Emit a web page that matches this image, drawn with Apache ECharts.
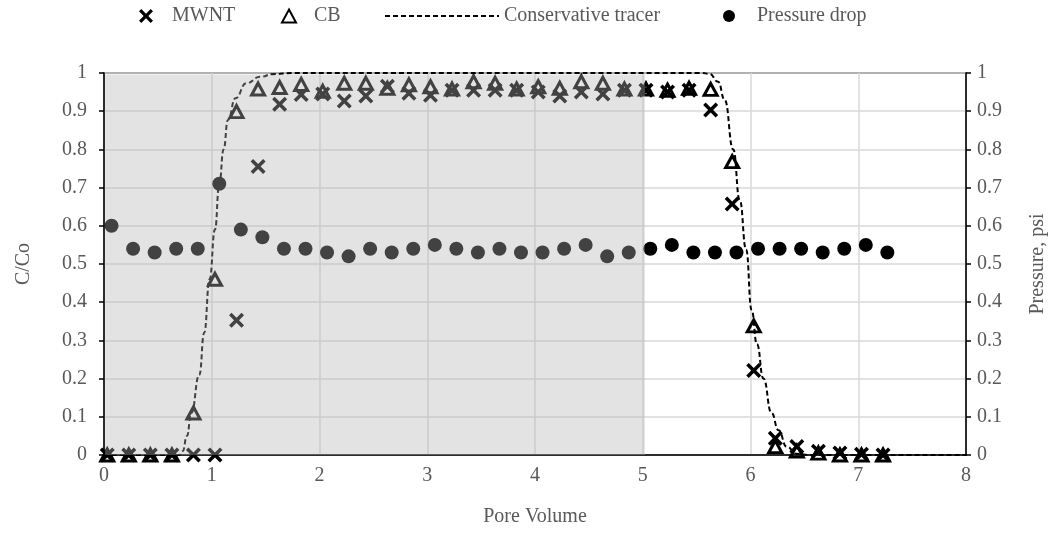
<!DOCTYPE html>
<html>
<head>
<meta charset="utf-8">
<script src="https://cdn.jsdelivr.net/npm/echarts@6/dist/echarts.min.js"></script>
<style>
  html, body { margin: 0; padding: 0; background: #fff; }
  #chart { width: 1063px; height: 541px; }
</style>
</head>
<body>
<div id="chart"></div>
<script>
// Effluent concentration samples (pore volume, C/Co)
const sampleX = [0.03, 0.23, 0.43, 0.63, 0.83, 1.03, 1.23, 1.43, 1.63, 1.83, 2.03, 2.23, 2.43, 2.63, 2.83, 3.03, 3.23, 3.43, 3.63, 3.83, 4.03, 4.23, 4.43, 4.63, 4.83, 5.03, 5.23, 5.43, 5.63, 5.83, 6.03, 6.23, 6.43, 6.63, 6.83, 7.03, 7.23];
const mwnt = [0, 0, 0, 0, 0, 0, 0.353, 0.755, 0.918, 0.944, 0.945, 0.927, 0.94, 0.965, 0.947, 0.942, 0.955, 0.955, 0.955, 0.955, 0.95, 0.94, 0.95, 0.945, 0.955, 0.955, 0.95, 0.955, 0.903, 0.657, 0.221, 0.044, 0.022, 0.01, 0.005, 0.002, 0];
const cb = [0, 0, 0, 0, 0.11, 0.46, 0.899, 0.958, 0.962, 0.97, 0.952, 0.973, 0.973, 0.96, 0.969, 0.964, 0.958, 0.977, 0.973, 0.958, 0.964, 0.96, 0.977, 0.973, 0.958, 0.958, 0.955, 0.96, 0.957, 0.768, 0.338, 0.022, 0.01, 0.005, 0, 0, 0];

// Pressure drop readings (pore volume, psi)
const pressureX = [0.07, 0.27, 0.47, 0.67, 0.87, 1.07, 1.27, 1.47, 1.67, 1.87, 2.07, 2.27, 2.47, 2.67, 2.87, 3.07, 3.27, 3.47, 3.67, 3.87, 4.07, 4.27, 4.47, 4.67, 4.87, 5.07, 5.27, 5.47, 5.67, 5.87, 6.07, 6.27, 6.47, 6.67, 6.87, 7.07, 7.27];
const pressure = [0.60, 0.54, 0.53, 0.54, 0.54, 0.71, 0.59, 0.57, 0.54, 0.54, 0.53, 0.52, 0.54, 0.53, 0.54, 0.55, 0.54, 0.53, 0.54, 0.53, 0.53, 0.54, 0.55, 0.52, 0.53, 0.54, 0.55, 0.53, 0.53, 0.53, 0.54, 0.54, 0.54, 0.53, 0.54, 0.55, 0.53];

// Conservative tracer breakthrough curve
const tracerX = [0, 0.70, 0.73, 0.77, 0.81, 0.885, 0.93, 0.98, 1.03, 1.07, 1.11, 1.15, 1.22, 1.32, 1.45, 1.57, 1.75, 5.55, 5.62, 5.70, 5.76, 5.84, 5.90, 5.96, 6.01, 6.06, 6.12, 6.195, 6.26, 6.335, 6.43, 6.55, 8];
const tracer = [0, 0, 0.01, 0.05, 0.11, 0.21, 0.32, 0.46, 0.59, 0.71, 0.80, 0.877, 0.934, 0.973, 0.99, 0.997, 1, 1, 0.998, 0.977, 0.93, 0.80, 0.667, 0.537, 0.38, 0.29, 0.2, 0.11, 0.065, 0.022, 0.003, 0, 0];

// Injection period (pore volumes)
const injection = [0.01, 5.02];

const yTicks = ['0', '0.1', '0.2', '0.3', '0.4', '0.5', '0.6', '0.7', '0.8', '0.9', '1'];

const pair = (xs, ys) => xs.map((x, i) => [x, ys[i]]);

const FONT = 'Liberation Serif';
const TEXT = '#595959';
const CROSS = 'path://M0,2 L2,0 L6,4 L10,0 L12,2 L8,6 L12,10 L10,12 L6,8 L2,12 L0,10 L4,6 Z';

const chart = echarts.init(document.getElementById('chart'), null, { renderer: 'canvas' });

const legendItem = (left, width, height, pad, name, extra) => Object.assign({
  top: 1,
  left: left,
  itemWidth: width,
  itemHeight: height,
  selectedMode: false,
  textStyle: { fontFamily: FONT, fontSize: 20, color: TEXT, padding: [0, 0, 0, pad] },
  data: [name]
}, extra || {});

const yAxisBase = {
  type: 'value',
  min: 0,
  max: 1,
  interval: 0.1,
  nameLocation: 'middle',
  nameTextStyle: { fontFamily: FONT, fontSize: 20, color: TEXT },
  axisLine: { show: true, lineStyle: { color: '#000', width: 1.5 } },
  axisTick: { show: true, length: 5, lineStyle: { color: '#000', width: 1.5 } },
  axisLabel: {
    fontFamily: FONT, fontSize: 20, color: TEXT,
    formatter: v => yTicks[Math.round(v * 10)]
  }
};

chart.setOption({
  animation: false,
  backgroundColor: '#fff',
  grid: {
    left: 104, right: 97, top: 73, bottom: 86,
    show: true, borderColor: '#000', borderWidth: 1.5, backgroundColor: 'transparent'
  },
  legend: [
    legendItem(134, 14, 14, 14, 'MWNT'),
    legendItem(276, 14, 13, 13, 'CB'),
    legendItem(379, 114, 14, 0, 'Conservative tracer', {
      itemStyle: { color: 'rgba(0,0,0,0)', borderColor: 'rgba(0,0,0,0)', borderWidth: 0 }
    }),
    legendItem(718, 12, 12, 17, 'Pressure drop')
  ],
  xAxis: {
    type: 'value',
    min: 0,
    max: 8,
    interval: 1,
    name: 'Pore Volume',
    nameLocation: 'middle',
    nameGap: 52,
    nameTextStyle: { fontFamily: FONT, fontSize: 20, color: TEXT },
    axisLine: { show: true, onZero: false, lineStyle: { color: '#000', width: 1.5 } },
    axisTick: { show: false },
    axisLabel: { fontFamily: FONT, fontSize: 20, color: TEXT, margin: 11 },
    splitLine: { show: true, lineStyle: { color: '#d9d9d9', width: 1.5 } }
  },
  yAxis: [
    Object.assign({}, yAxisBase, {
      name: 'C/Co',
      nameGap: 70,
      position: 'left',
      axisLabel: Object.assign({}, yAxisBase.axisLabel, { margin: 17 }),
      splitLine: { show: true, lineStyle: { color: '#d9d9d9', width: 1.5 } }
    }),
    Object.assign({}, yAxisBase, {
      name: 'Pressure, psi',
      nameGap: 62,
      position: 'right',
      axisLabel: Object.assign({}, yAxisBase.axisLabel, { margin: 11 }),
      splitLine: { show: false }
    })
  ],
  series: [
    {
      name: 'Conservative tracer',
      type: 'line',
      data: pair(tracerX, tracer),
      showSymbol: false,
      symbol: 'circle',
      smooth: true,
      smoothMonotone: 'x',
      lineStyle: { color: '#000', width: 2, type: [5, 3] },
      itemStyle: { color: '#000' },
      z: 2
    },
    {
      name: 'Pressure drop',
      type: 'scatter',
      yAxisIndex: 1,
      data: pair(pressureX, pressure),
      symbol: 'circle',
      symbolSize: 14,
      itemStyle: { color: '#000', opacity: 1 },
      z: 3
    },
    {
      name: 'CB',
      type: 'scatter',
      data: pair(sampleX, cb),
      symbol: 'triangle',
      symbolSize: [13, 12],
      symbolKeepAspect: true,
      itemStyle: { color: 'rgba(0,0,0,0)', borderColor: '#000', borderWidth: 3, opacity: 1 },
      z: 3
    },
    {
      name: 'MWNT',
      type: 'scatter',
      data: pair(sampleX, mwnt),
      symbol: CROSS,
      symbolSize: 15,
      itemStyle: { color: '#000', opacity: 1 },
      z: 3
    },
    {
      name: 'injection',
      type: 'scatter',
      data: [],
      z: 10,
      silent: true,
      markArea: {
        silent: true,
        z: 10,
        itemStyle: { color: 'rgba(180,180,180,0.37)', borderWidth: 0 },
        label: { show: false },
        data: [[{ xAxis: injection[0], yAxis: 0 }, { xAxis: injection[1], yAxis: 0.996 }]]
      }
    }
  ]
});
</script>
</body>
</html>
